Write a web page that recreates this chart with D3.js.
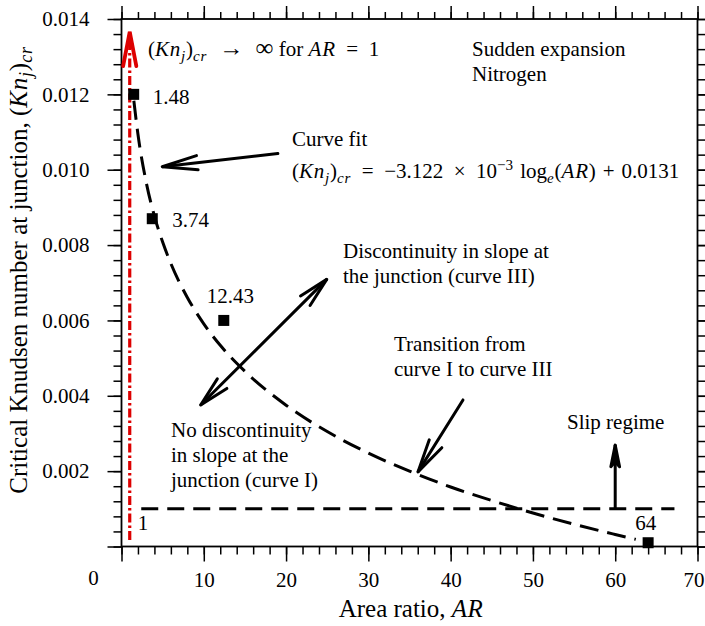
<!DOCTYPE html>
<html><head><meta charset="utf-8">
<script src="https://cdn.jsdelivr.net/npm/d3@7/dist/d3.min.js"></script>
<style>body{margin:0;background:#fff}svg{display:block}text{font-family:"Liberation Serif","Times New Roman","DejaVu Serif",serif;fill:#000}</style>
</head><body><svg id="c" width="705" height="626"></svg>
<script>
// ---- data ----
const pointAR = [1.48, 3.74, 12.43, 64];
const pointKn = [0.012, 0.0087, 0.006, 0.0001];
const pointLabels = ["1.48", "3.74", "12.43", "64"];
const fitAR = [1.5, 2, 3, 4, 5, 6, 8, 10, 12, 15, 20, 25, 30, 35, 40, 45, 50, 55, 60, 62.5];
const fitKn = [0.01183, 0.01094, 0.00967, 0.00877, 0.00808, 0.00751, 0.00661, 0.00591, 0.00534, 0.00465, 0.00375, 0.00305, 0.00248, 0.00200, 0.00158, 0.00122, 0.00089, 0.00059, 0.00032, 0.00019];
const slipAR = [2.4, 67.2];
const slipKn = [0.001, 0.001];
const limitAR = [1, 1];
const limitKn = [0.00017, 0.01366];
const xTickValues = [10, 20, 30, 40, 50, 60, 70];
const xMinorValues = d3.range(0, 71, 2);
const yTickValues = [0.002, 0.004, 0.006, 0.008, 0.010, 0.012, 0.014];
const yMinorValues = d3.range(0, 0.01401, 0.0004);

const svg = d3.select("#c");
const x = d3.scaleLinear().domain([0, 70]).range([121.5, 697.5]);
const y = d3.scaleLinear().domain([0, 0.014]).range([546.5, 19]);
const X0 = x.range()[0], X1 = x.range()[1], Y0 = y.range()[0], Y1 = y.range()[1];
const FONT = "Liberation Serif";

function styleAxis(g) {
  g.select(".domain").remove();
  g.selectAll(".tick line").attr("stroke", "#000").attr("stroke-width", 1.5);
  g.selectAll("text").attr("font-family", FONT).attr("font-size", 21).attr("fill", "#000");
}
// bottom
svg.append("g").attr("transform", `translate(0,${Y0})`)
  .call(d3.axisBottom(x).tickValues(xMinorValues).tickSize(8).tickFormat("")).call(styleAxis);
const xMajor = svg.append("g").attr("transform", `translate(0,${Y0})`)
  .call(d3.axisBottom(x).tickValues([0].concat(xTickValues)).tickSize(15).tickPadding(11).tickFormat(d => d === 0 ? "" : d3.format("d")(d))).call(styleAxis);
xMajor.selectAll(".tick text").filter(d => d === 70).attr("dx", -4);
// top
svg.append("g").attr("transform", `translate(0,${Y1})`)
  .call(d3.axisTop(x).tickValues(xMinorValues).tickSize(7).tickFormat("")).call(styleAxis);
svg.append("g").attr("transform", `translate(0,${Y1})`)
  .call(d3.axisTop(x).tickValues([0].concat(xTickValues)).tickSize(13).tickFormat("")).call(styleAxis);
// left
svg.append("g").attr("transform", `translate(${X0},0)`)
  .call(d3.axisLeft(y).tickValues(yMinorValues).tickSize(8).tickFormat("")).call(styleAxis);
svg.append("g").attr("transform", `translate(${X0},0)`)
  .call(d3.axisLeft(y).tickValues([0].concat(yTickValues)).tickSize(14).tickPadding(18).tickFormat(d => d === 0 ? "" : d3.format(".3f")(d))).call(styleAxis);
// right
svg.append("g").attr("transform", `translate(${X1},0)`)
  .call(d3.axisRight(y).tickValues(yMinorValues).tickSize(8).tickFormat("")).call(styleAxis);
svg.append("g").attr("transform", `translate(${X1},0)`)
  .call(d3.axisRight(y).tickValues([0].concat(yTickValues)).tickSize(14).tickFormat("")).call(styleAxis);
// corner zero
svg.append("text").attr("x", X0 - 28).attr("y", Y0 + 38).attr("text-anchor", "middle").attr("font-size", 21).text("0");
// frame
svg.append("rect").attr("x", X0).attr("y", Y1).attr("width", X1 - X0).attr("height", Y0 - Y1)
  .attr("fill", "none").attr("stroke", "#000").attr("stroke-width", 1.8);

// red limit line
const line = d3.line().x(d => x(d[0])).y(d => y(d[1]));
svg.append("path").datum(d3.zip(limitAR, limitKn)).attr("d", line)
  .attr("fill", "none").attr("stroke", "#dd0000").attr("stroke-width", 3.2).attr("stroke-dasharray", "9,3,2.5,3");

// slip line
svg.append("path").datum(d3.zip(slipAR, slipKn)).attr("d", line)
  .attr("fill", "none").attr("stroke", "#000").attr("stroke-width", 3).attr("stroke-dasharray", "17,9");

// curve fit
svg.append("path").datum(d3.zip(fitAR, fitKn))
  .attr("d", d3.line().x(d => x(d[0])).y(d => y(d[1])).curve(d3.curveMonotoneX))
  .attr("fill", "none").attr("stroke", "#000").attr("stroke-width", 3).attr("stroke-dasharray", "19,9");

// points
svg.selectAll("rect.pt").data(d3.zip(pointAR, pointKn)).join("rect").attr("class", "pt")
  .attr("x", d => x(d[0]) - 5.5).attr("y", d => y(d[1]) - 5.5).attr("width", 11).attr("height", 11).attr("fill", "#000");
const labelOffsets = [[19, 10], [20, 8], [-17, -17], [-13, -13]];
svg.selectAll("text.pl").data(pointLabels).join("text").attr("class", "pl")
  .attr("x", (d, i) => x(pointAR[i]) + labelOffsets[i][0]).attr("y", (d, i) => y(pointKn[i]) + labelOffsets[i][1])
  .attr("font-size", 21).text(d => d);
svg.append("text").attr("x", x(1) + 8).attr("y", y(0) - 17).attr("font-size", 21).text("1");

// arrows
function arrow(p1, p2, opts) {
  const a = [x(p1[0]), y(p1[1])], b = [x(p2[0]), y(p2[1])];
  const col = opts.color || "#000";
  const g = svg.append("g").attr("stroke", col).attr("stroke-width", opts.w || 3)
    .attr("fill", "none").attr("stroke-linecap", "round").attr("stroke-linejoin", "miter");
  if (!opts.noLine) g.append("line").attr("x1", a[0]).attr("y1", a[1]).attr("x2", b[0]).attr("y2", b[1]);
  const head = (tip, from) => {
    const ang = Math.atan2(from[1] - tip[1], from[0] - tip[0]);
    const L = opts.len || 28, s = opts.spread || 0.3;
    const p = t => [tip[0] + L * Math.cos(ang + t), tip[1] + L * Math.sin(ang + t)];
    const q1 = p(s), q2 = p(-s);
    if (opts.filled) {
      const m = [tip[0] + L * 0.75 * Math.cos(ang), tip[1] + L * 0.75 * Math.sin(ang)];
      g.append("path").attr("d", `M${q1}L${tip}L${q2}L${m}Z`).attr("fill", col).attr("stroke-linejoin", "round");
    } else {
      g.append("path").attr("d", `M${q1}L${tip}L${q2}`);
    }
  };
  head(b, a);
  if (opts.both) head(a, b);
}
arrow([19.0, 0.01043], [4.95, 0.01008], { len: 36, spread: 0.2 });
arrow([9.62, 0.003755], [24.94, 0.00709], { len: 31, spread: 0.22, both: true });
arrow([41.5, 0.00389], [36.03, 0.00198], { len: 34, spread: 0.22 });
arrow([60.0, 0.00102], [60.0, 0.00269], { len: 22, spread: 0.2, filled: true });
arrow([1, 0.0126], [1, 0.01366], { len: 35, spread: 0.19, color: "#dd0000", noLine: true, w: 3.8 });

// rich text helper
function rich(xp, yp, parts, size) {
  size = size || 21;
  const t = svg.append("text").attr("x", xp).attr("y", yp).attr("font-size", size);
  let shift = 0;
  parts.forEach(p => {
    const target = p.sub ? 5 : p.sup ? -8 : 0;
    const ts = t.append("tspan").text(p.t).attr("dy", target - shift);
    shift = target;
    if (p.it) ts.attr("font-style", "italic").attr("letter-spacing", p.ls == null ? 0.8 : p.ls);
    if (p.sub || p.sup) ts.attr("font-size", size * 0.72);
    if (p.big) ts.attr("font-size", size * p.big);
  });
  return t;
}
const E = "\u2002", M = "\u2004";
rich(148, 56, [{ t: "(" }, { t: "Kn", it: 1 }, { t: "j", it: 1, sub: 1 }, { t: ")" }, { t: "cr", it: 1, sub: 1 }, { t: E + "→" + E, big: 1.15 }, { t: "∞", big: 1.2 }, { t: " for " }, { t: "AR", it: 1 }, { t: E + "=" + E + "1" }]);
rich(292, 146, [{ t: "Curve fit" }]);
rich(292, 178, [{ t: "(" }, { t: "Kn", it: 1 }, { t: "j", it: 1, sub: 1 }, { t: ")" }, { t: "cr", it: 1, sub: 1 }, { t: E + "=" + E + "−3.122" + E + "×" + E + "10" }, { t: "−3", sup: 1 }, { t: M + "log" }, { t: "e", it: 1, sub: 1 }, { t: "(" }, { t: "AR", it: 1 }, { t: ")" + M + "+" + M + "0.0131" }]);
rich(472, 56, [{ t: "Sudden expansion" }]);
rich(472, 81, [{ t: "Nitrogen" }]);
rich(343, 258, [{ t: "Discontinuity in slope at" }]);
rich(343, 283, [{ t: "the junction (curve III)" }]);
rich(394, 351, [{ t: "Transition from" }]);
rich(394, 376, [{ t: "curve I to curve III" }]);
rich(171, 437, [{ t: "No discontinuity" }]);
rich(171, 462, [{ t: "in slope at the" }]);
rich(171, 487, [{ t: "junction (curve I)" }]);
rich(567, 429, [{ t: "Slip regime" }]);

// axis titles
const xt = rich(0, 617, [{ t: "Area ratio, " }, { t: "AR", it: 1, ls: 0.5 }], 25);
xt.attr("x", 411).attr("text-anchor", "middle");
const yt = svg.append("text").attr("transform", `translate(27,270) rotate(-90)`).attr("text-anchor", "middle").attr("font-size", 25);
[{ t: "Critical Knudsen number at junction, (" }, { t: "Kn", it: 1 }, { t: "j", it: 1, sub: 1 }, { t: ")" }, { t: "cr", it: 1, sub: 1 }].reduce((shift, p) => {
  const target = p.sub ? 5 : 0;
  const ts = yt.append("tspan").text(p.t).attr("dy", target - shift);
  if (p.it) ts.attr("font-style", "italic").attr("letter-spacing", 0.8);
  if (p.sub) ts.attr("font-size", 25 * 0.72);
  return target;
}, 0);
</script></body></html>
